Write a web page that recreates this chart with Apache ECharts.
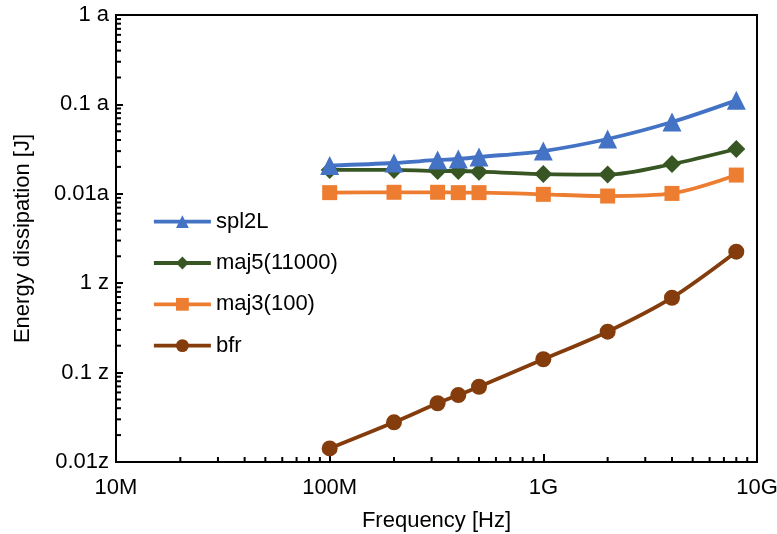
<!DOCTYPE html>
<html>
<head>
<meta charset="utf-8">
<script src="https://cdn.jsdelivr.net/npm/echarts@6/dist/echarts.min.js"></script>
<style>html,body{margin:0;padding:0;background:#fff;}#c{width:777px;height:534px;}</style>
</head>
<body>
<div id="c"></div>
<script>
const freqs = [1e8, 2e8, 3.2e8, 4e8, 5e8, 1e9, 2e9, 4e9, 8e9];
const spl2L = [2.07e-20, 2.21e-20, 2.39e-20, 2.45e-20, 2.58e-20, 3.01e-20, 4.1e-20, 6.35e-20, 1.11e-19];
const maj5 = [1.85e-20, 1.85e-20, 1.80e-20, 1.80e-20, 1.77e-20, 1.66e-20, 1.64e-20, 2.15e-20, 3.17e-20];
const maj3 = [1.03e-20, 1.04e-20, 1.04e-20, 1.03e-20, 1.03e-20, 0.986e-20, 0.944e-20, 1.01e-20, 1.62e-20];
const bfr = [1.42e-23, 2.78e-23, 4.54e-23, 5.61e-23, 6.95e-23, 1.41e-22, 2.87e-22, 6.88e-22, 2.25e-21];
const seriesNames = ['spl2L', 'maj5(11000)', 'maj3(100)', 'bfr'];
const xTickLabels = {7: '10M', 8: '100M', 9: '1G', 10: '10G'};
const yTickLabels = {'-23': '0.01z', '-22': '0.1 z', '-21': '1 z', '-20': '0.01a', '-19': '0.1 a', '-18': '1 a'};
const yAxisTitle = 'Energy dissipation [J]';

const FONT = 'Liberation Sans, Arial, sans-serif';
const chart = echarts.init(document.getElementById('c'), null, {renderer: 'canvas'});
function pairs(ys) { return freqs.map((f, i) => [f, ys[i]]); }
const styles = [
  {color: '#4472C4', symbol: 'triangle', size: 19},
  {color: '#375623', symbol: 'diamond', size: 18},
  {color: '#ED7D31', symbol: 'rect', size: 15},
  {color: '#843C0C', symbol: 'circle', size: 16}
];
const datasets = [spl2L, maj5, maj3, bfr];
const option = {
  animation: false,
  backgroundColor: '#fff',
  grid: {left: 116, right: 20, top: 15, bottom: 72, show: true, borderColor: '#000', borderWidth: 2, outerBoundsMode: 'none', containLabel: false},
  legend: {
    orient: 'vertical', left: 152, top: 210.7, padding: 0,
    itemWidth: 57, itemHeight: 16, itemGap: 19.3,
    lineStyle: {width: 3.8},
    textStyle: {fontSize: 22, lineHeight: 22, color: '#000', fontFamily: FONT},
    data: seriesNames
  },
  xAxis: {
    type: 'log', logBase: 10, min: 1e7, max: 1e10, splitNumber: 3,
    name: 'Frequency [Hz]', nameLocation: 'middle', nameGap: 48,
    nameTextStyle: {fontSize: 22, color: '#000', fontFamily: FONT},
    axisLine: {lineStyle: {color: '#000', width: 2}},
    axisTick: {inside: true, length: 8, lineStyle: {color: '#000', width: 2}},
    splitLine: {show: false},
    axisLabel: {fontSize: 22, color: '#000', fontFamily: FONT, margin: 15,
      formatter: v => xTickLabels[Math.round(Math.log10(v))] || ''}
  },
  yAxis: {
    type: 'log', logBase: 10, min: 1e-23, max: 1e-18, splitNumber: 5,
    axisLine: {lineStyle: {color: '#000', width: 2}},
    axisTick: {inside: true, length: 7, lineStyle: {color: '#000', width: 2}},
    splitLine: {show: false},
    axisLabel: {fontSize: 22, color: '#000', fontFamily: FONT, margin: 7,
      formatter: v => yTickLabels[String(Math.round(Math.log10(v)))] || ''}
  },
  series: seriesNames.map((n, i) => ({
    name: n, type: 'line', smooth: 0.3,
    data: pairs(datasets[i]),
    symbol: styles[i].symbol, symbolSize: styles[i].size,
    lineStyle: {color: styles[i].color, width: 3.8},
    itemStyle: {color: styles[i].color},
    z: 10 - i
  }))
};
chart.setOption(option);

// minor ticks at 2..9 within each decade, positioned through the axis scales
const g = [];
const yBottom = chart.convertToPixel({yAxisIndex: 0}, 1e-23);
const yTop = chart.convertToPixel({yAxisIndex: 0}, 1e-18);
const xLeft = chart.convertToPixel({xAxisIndex: 0}, 1e7);
for (let d = 7; d < 10; d++) {
  for (let k = 2; k <= 9; k++) {
    const px = chart.convertToPixel({xAxisIndex: 0}, k * Math.pow(10, d));
    g.push({type: 'line', shape: {x1: px, y1: yBottom, x2: px, y2: yBottom - 5}, style: {stroke: '#000', lineWidth: 2}, z: 5});
  }
}
for (let d = -23; d < -18; d++) {
  for (let k = 2; k <= 9; k++) {
    const py = chart.convertToPixel({yAxisIndex: 0}, k * Math.pow(10, d));
    g.push({type: 'line', shape: {x1: xLeft, y1: py, x2: xLeft + 5, y2: py}, style: {stroke: '#000', lineWidth: 2}, z: 5});
  }
}
// bottom-most y label, placed through the y scale
g.push({type: 'text', x: xLeft - 7, y: yBottom, z: 6,
  style: {text: yTickLabels['-23'], fontSize: 22, fontFamily: FONT, fill: '#000', align: 'right', verticalAlign: 'middle'}});
g.push({type: 'text', x: 23, y: (yBottom + yTop) / 2, rotation: Math.PI / 2,
  style: {text: yAxisTitle, fontSize: 22, fontFamily: FONT, fill: '#000', align: 'center', verticalAlign: 'middle'}});
chart.setOption({graphic: g});
</script>
</body>
</html>
